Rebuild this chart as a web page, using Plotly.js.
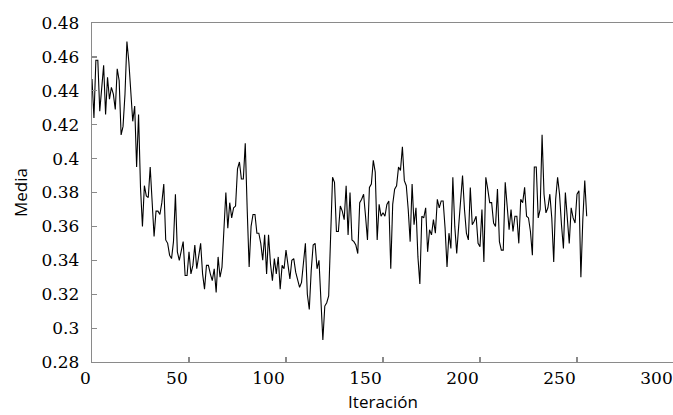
<!DOCTYPE html>
<html>
<head>
<meta charset="utf-8">
<script src="https://cdn.plot.ly/plotly-3.0.1.min.js"></script>
<style>
html, body { margin: 0; padding: 0; overflow: hidden; background: #fff; }
#chart { width: 676px; height: 415px; }
</style>
</head>
<body>
<div id="chart"></div>
<script>
// Media por iteración
const media = [
  0.447, 0.424, 0.458, 0.458, 0.428, 0.442, 0.455, 0.426, 0.448, 0.435,
  0.442, 0.438, 0.429, 0.453, 0.446, 0.414, 0.419, 0.438, 0.469, 0.457,
  0.438, 0.422, 0.431, 0.395, 0.426, 0.383, 0.360, 0.384, 0.378, 0.377,
  0.395, 0.377, 0.354, 0.369, 0.369, 0.367, 0.374, 0.385, 0.352, 0.350,
  0.343, 0.341, 0.351, 0.379, 0.345, 0.340, 0.346, 0.351, 0.331, 0.331,
  0.345, 0.332, 0.337, 0.349, 0.335, 0.342, 0.350, 0.332, 0.323, 0.337,
  0.337, 0.332, 0.328, 0.335, 0.321, 0.342, 0.330, 0.336, 0.358, 0.380,
  0.359, 0.374, 0.365, 0.371, 0.372, 0.394, 0.398, 0.388, 0.388, 0.409,
  0.370, 0.336, 0.360, 0.367, 0.367, 0.356, 0.356, 0.350, 0.340, 0.355,
  0.332, 0.355, 0.338, 0.328, 0.341, 0.332, 0.342, 0.323, 0.337, 0.335,
  0.346, 0.337, 0.329, 0.340, 0.341, 0.333, 0.329, 0.324, 0.327, 0.338,
  0.350, 0.320, 0.311, 0.334, 0.349, 0.350, 0.335, 0.340, 0.318, 0.293,
  0.313, 0.315, 0.319, 0.352, 0.389, 0.386, 0.357, 0.357, 0.372, 0.369,
  0.364, 0.384, 0.355, 0.380, 0.352, 0.351, 0.349, 0.344, 0.374, 0.376,
  0.379, 0.366, 0.352, 0.383, 0.385, 0.399, 0.392, 0.352, 0.373, 0.366,
  0.368, 0.366, 0.373, 0.375, 0.335, 0.373, 0.382, 0.384, 0.395, 0.393,
  0.407, 0.387, 0.384, 0.370, 0.351, 0.385, 0.361, 0.371, 0.342, 0.326,
  0.366, 0.365, 0.371, 0.345, 0.358, 0.355, 0.364, 0.356, 0.376, 0.371,
  0.375, 0.375, 0.359, 0.336, 0.356, 0.347, 0.389, 0.360, 0.344, 0.360,
  0.375, 0.390, 0.370, 0.356, 0.352, 0.383, 0.361, 0.363, 0.366, 0.350,
  0.348, 0.370, 0.339, 0.389, 0.382, 0.374, 0.374, 0.362, 0.360, 0.382,
  0.351, 0.346, 0.346, 0.386, 0.372, 0.358, 0.370, 0.357, 0.366, 0.366,
  0.350, 0.376, 0.374, 0.383, 0.366, 0.365, 0.357, 0.343, 0.395, 0.395,
  0.365, 0.370, 0.414, 0.379, 0.368, 0.371, 0.379, 0.365, 0.339, 0.376,
  0.389, 0.379, 0.361, 0.347, 0.380, 0.364, 0.350, 0.371, 0.365, 0.362,
  0.379, 0.381, 0.330, 0.364, 0.387, 0.366
];
const iteracion = media.map((_, i) => i);

const xTickVals = [0, 50, 100, 150, 200, 250, 300];
const xTickText = ["0", "50", "100", "150", "200", "250", "300"];
const yTickVals = [0.28, 0.30, 0.32, 0.34, 0.36, 0.38, 0.40, 0.42, 0.44, 0.46, 0.48];
const yTickText = ["0.28", "0.3", "0.32", "0.34", "0.36", "0.38", "0.4", "0.42", "0.44", "0.46", "0.48"];

const axisColor = "#8a8a8a";
const serif = "DejaVu Serif";
const sans = "Open Sans";

const trace = {
  x: iteracion,
  y: media,
  type: "scatter",
  mode: "lines",
  line: { color: "#000", width: 1.1 },
  hoverinfo: "skip"
};

const layout = {
  width: 676,
  height: 415,
  margin: { l: 91.7, r: 1.7, t: 22.7, b: 53 },
  paper_bgcolor: "#fff",
  plot_bgcolor: "#fff",
  showlegend: false,
  font: { family: serif, size: 17, color: "#000" },
  xaxis: {
    range: [0, 300],
    tickmode: "array",
    tickvals: xTickVals,
    ticktext: xTickText,
    ticks: "inside",
    ticklen: 5,
    tickwidth: 1.2,
    tickcolor: axisColor,
    showline: true,
    linecolor: axisColor,
    linewidth: 1.3,
    mirror: true,
    showgrid: false,
    zeroline: false,
    ticklabelposition: "outside left",
    tickfont: { family: serif, size: 17, color: "#000" },
    title: { text: "Iteración", font: { family: sans, size: 17, color: "#000" }, standoff: 9 }
  },
  yaxis: {
    range: [0.28, 0.48],
    tickmode: "array",
    tickvals: yTickVals,
    ticktext: yTickText,
    ticks: "inside",
    ticklen: 5,
    tickwidth: 1.2,
    tickcolor: axisColor,
    showline: true,
    linecolor: axisColor,
    linewidth: 1.3,
    mirror: true,
    showgrid: false,
    zeroline: false,
    tickfont: { family: serif, size: 17, color: "#000" },
    ticklabelstandoff: 8,
    title: { text: "Media", font: { family: sans, size: 17, color: "#000" }, standoff: 9 }
  }
};

Plotly.newPlot("chart", [trace], layout, { staticPlot: true, displayModeBar: false });
</script>
</body>
</html>
